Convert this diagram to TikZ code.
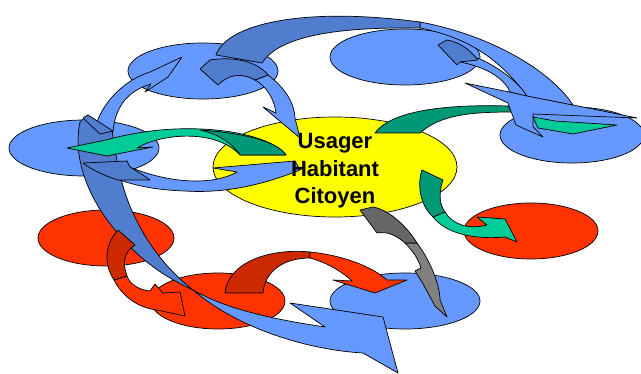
\documentclass[tikz,border=0pt]{standalone}
\usepackage{fontspec}
\setmainfont{Liberation Sans}
\definecolor{bleu}{RGB}{102,153,255}
\definecolor{bleufonce}{RGB}{80,125,205}
\definecolor{jaune}{RGB}{255,255,0}
\definecolor{rouge}{RGB}{255,51,0}
\definecolor{rougefonce}{RGB}{204,41,0}
\definecolor{vert}{RGB}{0,204,153}
\definecolor{vertfonce}{RGB}{0,153,119}
\definecolor{gris}{RGB}{128,128,128}
\definecolor{grisfonce}{RGB}{102,102,102}
\begin{document}
\begin{tikzpicture}[x=1pt, y=-1pt, forme/.style={draw=black, line width=0.7pt, line join=round}]
	\useasboundingbox (0,0) rectangle (641,374);
	% Ellipses
	\filldraw[forme, fill=bleu] (203,71) ellipse (75pt and 28pt);		% haut milieu
	\filldraw[forme, fill=bleu] (405,57) ellipse (75pt and 28pt);		% haut droite
	\filldraw[forme, fill=bleu] (84,148) ellipse (75pt and 28pt);		% gauche
	\filldraw[forme, fill=bleu] (572,135) ellipse (72pt and 28pt);		% droite
	\filldraw[forme, fill=jaune] (335,167) ellipse (122pt and 50pt);	% centre
	\filldraw[forme, fill=rouge] (106,238) ellipse (68pt and 28pt);		% rouge gauche
	\filldraw[forme, fill=rouge] (218,301) ellipse (67pt and 28pt);		% rouge bas
	\filldraw[forme, fill=rouge] (531,231) ellipse (67pt and 28pt);		% rouge droite
	\filldraw[forme, fill=bleu] (405,301) ellipse (75pt and 28pt);		% bleu bas
	% Grande fleche bleue a gauche
	\filldraw[forme, fill=bleufonce] (80,122) .. controls (72,160) and (90,200) .. (115,230) .. controls (135,255) and (160,275) .. (193,290) .. controls (165,268) and (145,240) .. (133,213) .. controls (122,190) and (116,160) .. (112,130) -- (86,116) -- cycle;
	\filldraw[forme, fill=bleu] (193,290) .. controls (225,308) and (265,318) .. (325,327) -- (290,303) -- (383,317) -- (398,373) -- (363,353) .. controls (310,350) and (240,330) .. cycle;
	% Fleche bleue vers Habitant
	\filldraw[forme, fill=bleu] (125,165) .. controls (170,185) and (215,185) .. (237,172) -- (213,168) -- (295,161) -- (300,170) .. controls (270,182) and (230,194) .. (185,191) .. controls (150,190) and (125,183) .. (110,176) -- cycle;
	\filldraw[forme, fill=bleufonce] (83,163) -- (127,161) -- (130,167) .. controls (138,172) and (145,176) .. (150,180) -- (118,180) .. controls (105,176) and (92,170) .. cycle;
	% Fleche bleue gauche vers haut
	\filldraw[forme, fill=bleu] (97,122) .. controls (105,100) and (125,80) .. (150,72) -- (182,57) -- (168,77) -- (145,92) -- (151,84) .. controls (130,90) and (115,105) .. (113,132) -- cycle;
	\filldraw[forme, fill=bleufonce] (83,118) -- (88,115) -- (113,131) -- (100,134) -- cycle;
	% Fleche verte vers la gauche
	\filldraw[forme, fill=vert] (286,155) .. controls (270,135) and (215,125) .. (160,130) .. controls (140,132) and (120,136) .. (106,140) -- (67,148) -- (107,156) -- (122,153) -- (153,147) -- (137,148) .. controls (160,134) and (215,128) .. (240,155) -- cycle;
	\filldraw[forme, fill=vertfonce] (240,155) -- (286,155) .. controls (278,142) and (245,133) .. (200,130) .. controls (215,133) and (232,142) .. cycle;
	% Fleche bleue vers Usager
	\filldraw[forme, fill=bleu] (268,75) .. controls (285,88) and (294,102) .. (295,118) -- (300,138) -- (263,107) -- (276,113) .. controls (274,98) and (266,86) .. (255,80) -- cycle;
	\filldraw[forme, fill=bleufonce] (200,69) -- (210,60) .. controls (235,56) and (258,62) .. (268,75) -- (255,80) .. controls (240,72) and (228,75) .. (218,85) -- cycle;
	% Fleche verte en haut a droite
	\filldraw[forme, fill=vertfonce] (375,133) .. controls (390,112) and (440,104) .. (508,106) -- (512,112) .. controls (470,112) and (440,115) .. (420,133) -- cycle;
	% Grande fleche bleue du haut
	\filldraw[forme, fill=bleu] (465,83) -- (637,118) -- (533,114) -- (533,127) -- (543,137) -- (516,125) -- (508,103) -- cycle;
	\filldraw[forme, fill=bleu] (420,22) .. controls (490,35) and (550,70) .. (573,105) -- (527,96) .. controls (500,60) and (470,38) .. (420,28) -- cycle;
	\filldraw[forme, fill=bleufonce] (216,55) .. controls (226,25) and (300,6) .. (420,22) -- (420,28) .. controls (340,27) and (280,35) .. (262,63) -- cycle;
	\filldraw[forme, fill=bleu] (478,58) .. controls (500,68) and (518,82) .. (527,96) -- (510,92) .. controls (505,80) and (490,68) .. (460,62) -- cycle;
	\filldraw[forme, fill=bleufonce] (438,45) -- (447,40) .. controls (460,42) and (470,50) .. (478,60) -- (460,62) -- (457,65) -- cycle;
	\filldraw[forme, fill=vert] (533,117) -- (555,121) -- (617,125) -- (573,134) -- (538,128) -- cycle;
	% Fleches rouges
	\filldraw[forme, fill=rouge] (114,280) .. controls (122,296) and (138,308) .. (157,310) -- (185,316) -- (180,292) -- (163,293) -- (155,284) -- (150,291) .. controls (140,290) and (130,285) .. (127,276) -- cycle;
	\filldraw[forme, fill=rougefonce] (118,230) .. controls (104,245) and (104,265) .. (114,280) -- (127,276) .. controls (122,262) and (124,252) .. (135,245) -- cycle;
	\filldraw[forme, fill=rougefonce] (225,293) .. controls (228,262) and (270,248) .. (310,252) -- (310,258) .. controls (285,258) and (265,270) .. (263,293) -- cycle;
	\filldraw[forme, fill=rouge] (310,252) .. controls (340,255) and (370,265) .. (387,280) -- (407,280) -- (375,293) -- (333,280) -- (352,281) .. controls (340,270) and (325,262) .. (310,258) -- cycle;
	% Fleche grise
	\filldraw[forme, fill=gris] (405,243) -- (417,243) .. controls (430,260) and (440,285) .. (440,300) -- (447,317) -- (435,306) -- (422,282) -- (415,271) -- (421,268) .. controls (418,258) and (412,250) .. cycle;
	\filldraw[forme, fill=grisfonce] (360,210) -- (373,207) .. controls (390,210) and (408,228) .. (417,243) -- (405,243) .. controls (397,236) and (388,231) .. (377,233) -- cycle;
	% Fleche verte vers le rouge
	\filldraw[forme, fill=vert] (433,217) .. controls (445,232) and (470,240) .. (505,237) -- (517,242) -- (505,219) -- (477,217) -- (487,225) .. controls (468,230) and (452,224) .. (445,212) -- cycle;
	\filldraw[forme, fill=vertfonce] (422,170) -- (443,180) .. controls (438,195) and (440,205) .. (445,212) -- (433,217) .. controls (420,205) and (417,185) .. cycle;
	% Texte
	\node[font=\bfseries\fontsize{22}{27.5}\selectfont, align=center] (centre) at (335,171) {Usager\\Habitant\\Citoyen};
\end{tikzpicture}
\end{document}
